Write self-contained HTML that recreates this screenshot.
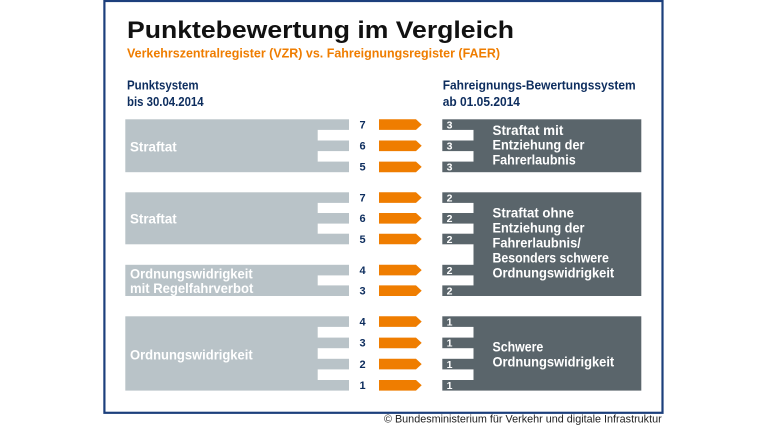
<!DOCTYPE html>
<html>
<head>
<meta charset="utf-8">
<style>
  html,body{margin:0;padding:0;background:#ffffff;}
  svg{display:block;}
  .b{font-family:"Liberation Sans",sans-serif;font-weight:bold;}
  .r{font-family:"Liberation Sans",sans-serif;font-weight:normal;}
</style>
</head>
<body>
<svg width="768" height="432" viewBox="0 0 768 432" xmlns="http://www.w3.org/2000/svg">
  <rect x="0" y="0" width="768" height="432" fill="#ffffff"/>
  <!-- frame -->
  <rect x="104.4" y="1" width="558.1" height="411.8" fill="none" stroke="#1c3f7c" stroke-width="2.2"/>

  <!-- title -->
  <text class="b" x="127" y="37.8" font-size="24" fill="#111111" textLength="387" lengthAdjust="spacingAndGlyphs">Punktebewertung im Vergleich</text>
  <text class="b" x="127" y="57.4" font-size="12.5" fill="#ef7d00" textLength="373" lengthAdjust="spacingAndGlyphs">Verkehrszentralregister (VZR) vs. Fahreignungsregister (FAER)</text>

  <!-- headers -->
  <text class="b" x="127" y="89.4" font-size="13" fill="#0d2d5e" textLength="71.6" lengthAdjust="spacingAndGlyphs">Punktsystem</text>
  <text class="b" x="127" y="105.8" font-size="13" fill="#0d2d5e" textLength="76.6" lengthAdjust="spacingAndGlyphs">bis 30.04.2014</text>
  <text class="b" x="442.7" y="89.4" font-size="13" fill="#0d2d5e" textLength="193" lengthAdjust="spacingAndGlyphs">Fahreignungs-Bewertungssystem</text>
  <text class="b" x="442.7" y="105.8" font-size="13" fill="#0d2d5e" textLength="77.3" lengthAdjust="spacingAndGlyphs">ab 01.05.2014</text>

  <!-- left gray blocks -->
  <g fill="#b9c3c8">
    <rect x="125.3" y="119.3" width="223.7" height="52.9"/>
    <rect x="125.3" y="192.3" width="223.7" height="52"/>
    <rect x="125.3" y="264.8" width="223.7" height="31.2"/>
    <rect x="125.3" y="316.3" width="223.7" height="74.3"/>
  </g>
  <g fill="#ffffff">
    <rect x="317.7" y="129.9" width="32" height="10.6"/>
    <rect x="317.7" y="151.1" width="32" height="10.5"/>
    <rect x="317.7" y="202.9" width="32" height="10.1"/>
    <rect x="317.7" y="223.6" width="32" height="10.1"/>
    <rect x="317.7" y="275.4" width="32" height="10"/>
    <rect x="317.7" y="326.9" width="32" height="10.7"/>
    <rect x="317.7" y="348.2" width="32" height="10.6"/>
    <rect x="317.7" y="369.4" width="32" height="10.6"/>
  </g>

  <!-- right dark blocks -->
  <g fill="#5a656b">
    <rect x="442.3" y="119.3" width="199" height="52.9"/>
    <rect x="442.3" y="192.3" width="199" height="103.7"/>
    <rect x="442.3" y="316.3" width="199" height="74.3"/>
  </g>
  <g fill="#ffffff">
    <rect x="441.5" y="129.9" width="32" height="10.6"/>
    <rect x="441.5" y="151.1" width="32" height="10.5"/>
    <rect x="441.5" y="202.9" width="32" height="10.1"/>
    <rect x="441.5" y="223.6" width="32" height="10.1"/>
    <rect x="441.5" y="244.3" width="32" height="20.5"/>
    <rect x="441.5" y="275.4" width="32" height="10"/>
    <rect x="441.5" y="326.9" width="32" height="10.7"/>
    <rect x="441.5" y="348.2" width="32" height="10.6"/>
    <rect x="441.5" y="369.4" width="32" height="10.6"/>
  </g>

  <!-- arrows -->
  <g fill="#ef7d00">
    <polygon points="379,119.3 416,119.3 421.7,124.6 416,129.9 379,129.9"/>
    <polygon points="379,140.5 416,140.5 421.7,145.8 416,151.1 379,151.1"/>
    <polygon points="379,161.6 416,161.6 421.7,166.9 416,172.2 379,172.2"/>
    <polygon points="379,192.3 416,192.3 421.7,197.6 416,202.9 379,202.9"/>
    <polygon points="379,213 416,213 421.7,218.3 416,223.6 379,223.6"/>
    <polygon points="379,233.7 416,233.7 421.7,239 416,244.3 379,244.3"/>
    <polygon points="379,264.8 416,264.8 421.7,270.1 416,275.4 379,275.4"/>
    <polygon points="379,285.4 416,285.4 421.7,290.7 416,296 379,296"/>
    <polygon points="379,316.3 416,316.3 421.7,321.6 416,326.9 379,326.9"/>
    <polygon points="379,337.6 416,337.6 421.7,342.9 416,348.2 379,348.2"/>
    <polygon points="379,358.8 416,358.8 421.7,364.1 416,369.4 379,369.4"/>
    <polygon points="379,380 416,380 421.7,385.3 416,390.6 379,390.6"/>
  </g>

  <!-- left numbers -->
  <g class="b" font-size="11" fill="#0d2d5e" text-anchor="middle">
    <text x="362.5" y="128.4">7</text>
    <text x="362.5" y="149.6">6</text>
    <text x="362.5" y="170.7">5</text>
    <text x="362.5" y="201.4">7</text>
    <text x="362.5" y="222.1">6</text>
    <text x="362.5" y="242.8">5</text>
    <text x="362.5" y="273.9">4</text>
    <text x="362.5" y="294.5">3</text>
    <text x="362.5" y="325.4">4</text>
    <text x="362.5" y="346.7">3</text>
    <text x="362.5" y="367.9">2</text>
    <text x="362.5" y="389.1">1</text>
  </g>

  <!-- right numbers -->
  <g class="b" font-size="10.5" fill="#ffffff" text-anchor="middle">
    <text x="449.6" y="128.4">3</text>
    <text x="449.6" y="149.6">3</text>
    <text x="449.6" y="170.7">3</text>
    <text x="449.6" y="201.4">2</text>
    <text x="449.6" y="222.1">2</text>
    <text x="449.6" y="242.8">2</text>
    <text x="449.6" y="273.9">2</text>
    <text x="449.6" y="294.5">2</text>
    <text x="449.6" y="325.4">1</text>
    <text x="449.6" y="346.7">1</text>
    <text x="449.6" y="367.9">1</text>
    <text x="449.6" y="389.1">1</text>
  </g>

  <!-- left block labels -->
  <g class="b" font-size="14" fill="#ffffff">
    <text x="130" y="151.3" textLength="46.7" lengthAdjust="spacingAndGlyphs">Straftat</text>
    <text x="130" y="223.3" textLength="46.7" lengthAdjust="spacingAndGlyphs">Straftat</text>
    <text x="130" y="278.3" textLength="122.7" lengthAdjust="spacingAndGlyphs">Ordnungswidrigkeit</text>
    <text x="130" y="292.8" textLength="123.3" lengthAdjust="spacingAndGlyphs">mit Regelfahrverbot</text>
    <text x="130" y="359.5" textLength="122.7" lengthAdjust="spacingAndGlyphs">Ordnungswidrigkeit</text>
  </g>

  <!-- right block labels -->
  <g class="b" font-size="14" fill="#ffffff">
    <text x="492.5" y="135" textLength="70.8" lengthAdjust="spacingAndGlyphs">Straftat mit</text>
    <text x="492.5" y="149.7" textLength="92" lengthAdjust="spacingAndGlyphs">Entziehung der</text>
    <text x="492.5" y="164.3" textLength="83.2" lengthAdjust="spacingAndGlyphs">Fahrerlaubnis</text>

    <text x="492.5" y="217.3" textLength="81.5" lengthAdjust="spacingAndGlyphs">Straftat ohne</text>
    <text x="492.5" y="232.3" textLength="92" lengthAdjust="spacingAndGlyphs">Entziehung der</text>
    <text x="492.5" y="247.3" textLength="88.3" lengthAdjust="spacingAndGlyphs">Fahrerlaubnis/</text>
    <text x="492.5" y="262.3" textLength="116.3" lengthAdjust="spacingAndGlyphs">Besonders schwere</text>
    <text x="492.5" y="277.3" textLength="121.7" lengthAdjust="spacingAndGlyphs">Ordnungswidrigkeit</text>

    <text x="492.5" y="351.7" textLength="50.8" lengthAdjust="spacingAndGlyphs">Schwere</text>
    <text x="492.5" y="366.3" textLength="121.7" lengthAdjust="spacingAndGlyphs">Ordnungswidrigkeit</text>
  </g>

  <!-- copyright -->
  <text class="r" x="384" y="422.3" font-size="11" fill="#222222" textLength="277.7" lengthAdjust="spacingAndGlyphs">© Bundesministerium für Verkehr und digitale Infrastruktur</text>
</svg>
</body>
</html>
